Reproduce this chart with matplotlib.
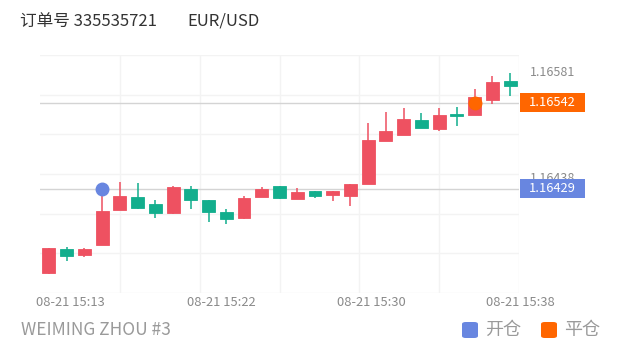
import matplotlib
matplotlib.use("Agg")
import matplotlib.pyplot as plt
import matplotlib.transforms as mtransforms
from matplotlib.patches import Rectangle, FancyBboxPatch
import numpy as np

plt.rcParams['font.family'] = ['Noto Sans CJK SC', 'DejaVu Sans']

### data
opens = [1.16319, 1.16350, 1.16342, 1.16356, 1.16401, 1.16418, 1.16409, 1.16397, 1.16429,
         1.16414, 1.16399, 1.16391, 1.16418, 1.16433, 1.16416, 1.16426, 1.16421, 1.16420,
         1.16436, 1.16492, 1.16500, 1.16519, 1.16508, 1.16527, 1.16526, 1.16546, 1.16571]
closes = [1.16351, 1.16341, 1.16350, 1.16400, 1.16420, 1.16404, 1.16397, 1.16431, 1.16415,
          1.16399, 1.16390, 1.16417, 1.16429, 1.16417, 1.16425, 1.16420, 1.16426, 1.16435,
          1.16493, 1.16505, 1.16521, 1.16509, 1.16526, 1.16525, 1.16549, 1.16569, 1.16564]
highs = [1.16351, 1.16353, 1.16351, 1.16428, 1.16438, 1.16437, 1.16415, 1.16433, 1.16433,
         1.16414, 1.16403, 1.16420, 1.16431, 1.16433, 1.16430, 1.16426, 1.16426, 1.16435,
         1.16516, 1.16530, 1.16535, 1.16529, 1.16535, 1.16537, 1.16560, 1.16577, 1.16581]
lows = [1.16318, 1.16334, 1.16340, 1.16356, 1.16401, 1.16403, 1.16391, 1.16396, 1.16403,
        1.16386, 1.16383, 1.16389, 1.16418, 1.16416, 1.16416, 1.16417, 1.16413, 1.16407,
        1.16436, 1.16492, 1.16500, 1.16509, 1.16505, 1.16511, 1.16526, 1.16540, 1.16551]

time_labels = ["08-21 15:13", "08-21 15:22", "08-21 15:30", "08-21 15:38"]
time_label_pos = [1.2, 9.7, 18.2, 26.6]

open_idx, open_price = 3, 1.16429
close_idx, close_price = 24, 1.16542
axis_labels = ["1.16581", "1.16438"]
axis_label_vals = [1.16581, 1.16443]

title_text = "订单号 335535721"
pair_text = "EUR/USD"
account_text = "WEIMING ZHOU #3"
legend_labels = ["开仓", "平仓"]

UP = "#ee5161"
DOWN = "#12ae8d"
BLUE = "#6886e0"
ORANGE = "#ff6600"

### figure
fig = plt.figure(figsize=(6.2, 3.5), dpi=100)
W, H = 620, 350
ax = fig.add_axes([40 / W, (H - 293) / H, 479 / W, 238 / H])

n = len(opens)
x = np.arange(n)
o = np.array(opens)
c = np.array(closes)
up = c >= o
colors = [UP if u else DOWN for u in up]

ax.vlines(x, lows, highs, colors=colors, linewidth=1.3, alpha=0.85, zorder=3)
bottoms = np.minimum(o, c)
heights = np.maximum(np.abs(c - o), 0.00002)
ax.bar(x, heights, bottom=bottoms, width=0.73, color=colors, edgecolor=colors,
       linewidth=0.6, zorder=4)

ymin, ymax = 1.162927, 1.166045
ax.set_xlim(-0.5, n - 0.5)
ax.set_ylim(ymin, ymax)

# grid
ax.set_yticks(np.linspace(ymin, ymax, 7))
ax.set_xticks(np.arange(4, n, 4.5))
ax.grid(True, color="#f3f3f3", linewidth=1, zorder=0)
ax.tick_params(length=0, labelleft=False, labelbottom=False)
for s in ax.spines.values():
    s.set_visible(False)

# position lines
for price in (open_price, close_price):
    ax.axhline(price, color="#d4d4d4", linewidth=1, zorder=2)

ax.plot([open_idx], [open_price], "o", color=BLUE, markersize=9, zorder=6)
ax.plot([close_idx], [close_price], "o", color=ORANGE, markersize=9, zorder=6)

# x labels
trans_x = mtransforms.blended_transform_factory(ax.transData, ax.transAxes)
for lab, pos in zip(time_labels, time_label_pos):
    ax.text(pos, -0.038, lab, transform=trans_x, ha="center", va="center",
            fontsize=9.3, color="#8a8a8a")

# y labels and price tags
trans_y = mtransforms.blended_transform_factory(ax.transAxes, ax.transData)
for lab, val in zip(axis_labels, axis_label_vals):
    ax.text(1.023, val, lab, transform=trans_y, ha="left", va="center",
            fontsize=9, color="#8a8a8a", zorder=1)
tag_h = 19 * (ymax - ymin) / 238
for price, col in ((close_price, ORANGE), (open_price, BLUE)):
    ax.add_patch(Rectangle((1.002, price - tag_h / 2), 65 / 479, tag_h, transform=trans_y,
                           facecolor=col, edgecolor="none", clip_on=False, zorder=8))
    ax.text(1.002 + 32.5 / 479, price, f"{price:.5f}", transform=trans_y, ha="center",
            va="center", fontsize=9.3, color="white", zorder=9)

# header and footer
fig.text(20 / W, 1 - 21 / H, title_text, ha="left", va="center", fontsize=12, color="#333333")
fig.text(187 / W, 1 - 21 / H, pair_text, ha="left", va="center", fontsize=12, color="#333333")
fig.text(21 / W, 1 - 330 / H, account_text, ha="left", va="center", fontsize=12.5, color="#9a9a9a")

for (lx, col), lab in zip(((462, BLUE), (541, ORANGE)), legend_labels):
    fig.patches.append(FancyBboxPatch((lx / W, (H - 338) / H), 16 / W, 16 / H,
                                      boxstyle="round,pad=0,rounding_size=0.006",
                                      transform=fig.transFigure, facecolor=col,
                                      edgecolor="none"))
    fig.text((lx + 23) / W, 1 - 330 / H, lab, ha="left", va="center", fontsize=13,
             color="#9a9a9a")

fig.savefig("out.png", dpi=100)
